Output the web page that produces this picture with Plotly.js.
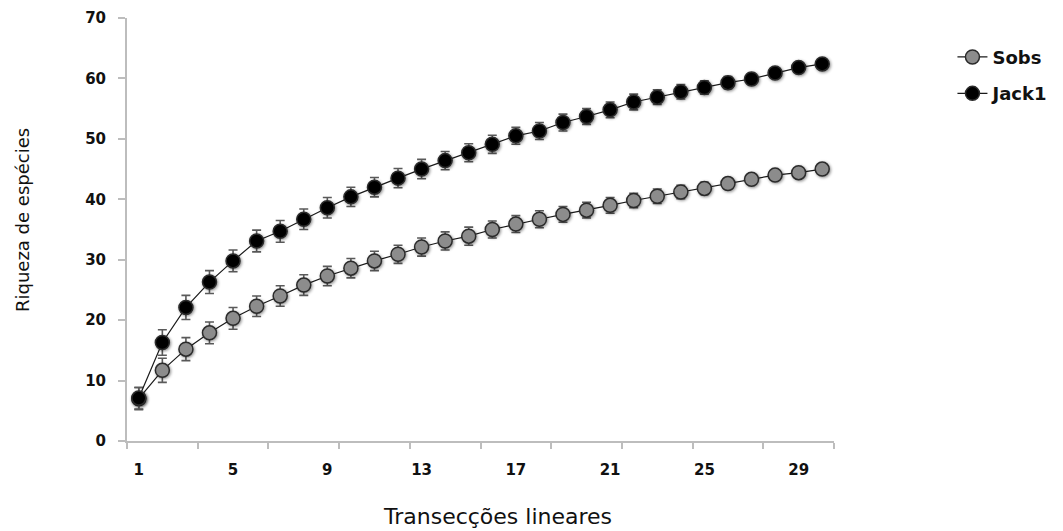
<!DOCTYPE html>
<html>
<head>
<meta charset="utf-8">
<script src="https://cdn.plot.ly/plotly-3.0.1.min.js"></script>
<style>
  html, body { margin: 0; padding: 0; background: #fff; }
  #chart { width: 1063px; height: 531px; }
  .scatterlayer .points path { filter: drop-shadow(1px 1px 1.5px rgba(0,0,0,0.45)); }
</style>
</head>
<body>
<div id="chart"></div>
<script>
// Species accumulation curves over 30 linear transects
const transects = Array.from({length: 30}, (_, i) => i + 1);

const sobs = [7.0, 11.7, 15.2, 17.9, 20.3, 22.3, 24.0, 25.8, 27.3, 28.6,
              29.8, 30.9, 32.1, 33.1, 33.9, 35.0, 35.9, 36.7, 37.5, 38.2,
              39.0, 39.8, 40.5, 41.2, 41.8, 42.6, 43.3, 44.0, 44.4, 45.0];
const sobsErr = [1.8, 2.0, 1.9, 1.8, 1.8, 1.7, 1.7, 1.7, 1.6, 1.6,
                 1.6, 1.5, 1.5, 1.5, 1.5, 1.4, 1.4, 1.4, 1.3, 1.3,
                 1.3, 1.2, 1.2, 1.1, 1.0, 0.9, 0.8, 0.7, 0.6, 0.4];

const jack1 = [7.1, 16.3, 22.1, 26.3, 29.8, 33.1, 34.7, 36.7, 38.6, 40.4,
               42.0, 43.5, 45.0, 46.4, 47.7, 49.1, 50.5, 51.3, 52.7, 53.7,
               54.8, 56.1, 56.9, 57.8, 58.5, 59.3, 59.9, 60.9, 61.8, 62.4];
const jack1Err = [1.8, 2.1, 2.0, 1.9, 1.8, 1.8, 1.8, 1.7, 1.7, 1.6,
                  1.6, 1.6, 1.6, 1.5, 1.5, 1.5, 1.4, 1.4, 1.4, 1.3,
                  1.3, 1.3, 1.2, 1.2, 1.1, 1.0, 0.9, 0.8, 0.6, 0.4];

const xTickVals = [1, 5, 9, 13, 17, 21, 25, 29];
const yTickVals = [0, 10, 20, 30, 40, 50, 60, 70];

const xTitle = 'Transecções lineares';
const yTitle = 'Riqueza de espécies';

const FONT = '"DejaVu Sans", sans-serif';

function series(name, y, err, fill, group) {
  return {
    x: transects, y: y, name: name, type: 'scatter', mode: 'lines+markers',
    legendgroup: group,
    line: {color: '#1a1a1a', width: 1.2},
    marker: {size: 14, color: fill, line: {color: '#2b2b2b', width: 1.5}},
    error_y: {type: 'data', array: err, visible: true, color: '#5a5a5a', thickness: 1.6, width: 4.5}
  };
}

const traces = [
  series('Sobs', sobs, sobsErr, '#8c8c8c', 'g1'),
  series('Jack1', jack1, jack1Err, '#000000', 'g2')
];

const axisGray = '#bdbdbd';

const layout = {
  width: 1063, height: 531,
  margin: {l: 127, r: 229, t: 18, b: 90, autoexpand: false},
  paper_bgcolor: '#fff', plot_bgcolor: '#fff',
  showlegend: true,
  legend: {
    xref: 'container', yref: 'container',
    x: 0.896, y: 0.927, xanchor: 'left', yanchor: 'top',
    font: {family: FONT, size: 18, color: '#111', weight: 'bold'},
    traceorder: 'grouped', tracegroupgap: 10, itemwidth: 30,
    bgcolor: 'rgba(0,0,0,0)'
  },
  xaxis: {
    range: [0.5, 30.5], showgrid: false, zeroline: false,
    showline: true, linecolor: axisGray, linewidth: 2,
    tickmode: 'array', tickvals: xTickVals, ticktext: xTickVals.map(String),
    ticks: '', ticklabelstandoff: 14,
    tickfont: {family: FONT, size: 15, color: '#111', weight: 'bold'},
    minor: {tick0: 0.5, dtick: 3, ticks: 'outside', ticklen: 6, tickcolor: axisGray, tickwidth: 2, showgrid: false}
  },
  yaxis: {
    range: [0, 70], showgrid: false, zeroline: false,
    showline: true, linecolor: axisGray, linewidth: 2,
    tickmode: 'array', tickvals: yTickVals,
    ticks: 'outside', ticklen: 7, tickcolor: axisGray, tickwidth: 2,
    ticklabelstandoff: 9,
    tickfont: {family: FONT, size: 15, color: '#111', weight: 'bold'}
  },
  annotations: [
    {text: xTitle, xref: 'paper', yref: 'paper', x: (497 - 127) / 707, y: -(516 - 441) / 423,
     xanchor: 'center', yanchor: 'middle', showarrow: false,
     font: {family: FONT, size: 22, color: '#111'}},
    {text: yTitle, xref: 'paper', yref: 'paper', x: -(127 - 22) / 707, y: (441 - 220) / 423,
     xanchor: 'center', yanchor: 'middle', showarrow: false, textangle: -90,
     font: {family: FONT, size: 18, color: '#111'}}
  ]
};

Plotly.newPlot('chart', traces, layout, {displayModeBar: false, staticPlot: true});
</script>
</body>
</html>
